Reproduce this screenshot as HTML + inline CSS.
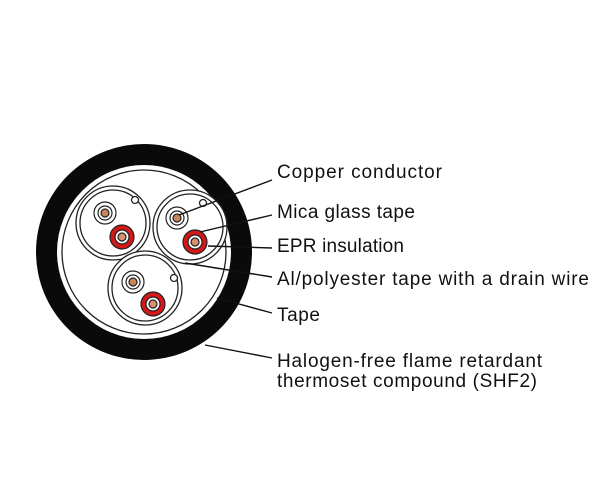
<!DOCTYPE html>
<html><head><meta charset="utf-8"><style>
html,body{margin:0;padding:0;background:#fff;width:600px;height:500px;overflow:hidden}
text{font-family:"Liberation Sans","DejaVu Sans",sans-serif;font-size:19px;fill:#111}
</style></head><body>
<svg width="600" height="500" viewBox="0 0 600 500" xmlns="http://www.w3.org/2000/svg">
<circle cx="144" cy="252" r="108" fill="#0a0a0a"/>
<circle cx="144" cy="252" r="87" fill="#fff"/>
<circle cx="144" cy="252" r="82" fill="none" stroke="#222" stroke-width="1.3"/>
<g fill="none" stroke="#222" stroke-width="1.3">
<circle cx="113" cy="223" r="37" fill="#fff"/><circle cx="113" cy="223" r="33"/>
<circle cx="190" cy="227" r="37" fill="#fff"/><circle cx="190" cy="227" r="33"/>
<circle cx="145" cy="288" r="37" fill="#fff"/><circle cx="145" cy="288" r="33"/>
</g>
<g stroke="#222" stroke-width="1.3" fill="#fff">
<circle cx="135" cy="200" r="3.5"/><circle cx="203" cy="203" r="3.5"/><circle cx="174" cy="278" r="3.5"/>
</g>
<g stroke="#222" stroke-width="1.2">
<circle cx="105" cy="213" r="11" fill="#fff"/><circle cx="105" cy="213" r="7" fill="#fff"/><circle cx="105" cy="213" r="4" fill="#c8845a"/>
<circle cx="177" cy="218" r="11" fill="#fff"/><circle cx="177" cy="218" r="7" fill="#fff"/><circle cx="177" cy="218" r="4" fill="#c8845a"/>
<circle cx="133" cy="282" r="11" fill="#fff"/><circle cx="133" cy="282" r="7" fill="#fff"/><circle cx="133" cy="282" r="4" fill="#c8845a"/>
<circle cx="122" cy="237" r="12" fill="#d41818"/><circle cx="122" cy="237" r="7" fill="#fff"/><circle cx="122" cy="237" r="4" fill="#d89070"/>
<circle cx="195" cy="242" r="12" fill="#d41818"/><circle cx="195" cy="242" r="7" fill="#fff"/><circle cx="195" cy="242" r="4" fill="#d89070"/>
<circle cx="153" cy="304" r="12" fill="#d41818"/><circle cx="153" cy="304" r="7" fill="#fff"/><circle cx="153" cy="304" r="4" fill="#d89070"/>
</g>
<g stroke="#111" stroke-width="1.4">
<line x1="179" y1="215" x2="272" y2="180"/>
<line x1="200" y1="232" x2="272" y2="215"/>
<line x1="208" y1="246" x2="272" y2="248"/>
<line x1="185" y1="263" x2="272" y2="277"/>
<line x1="217" y1="298" x2="272" y2="313"/>
<line x1="205" y1="345" x2="272" y2="358"/>
</g>
<text x="277" y="178" textLength="165">Copper conductor</text>
<text x="277" y="218" textLength="138">Mica glass tape</text>
<text x="277" y="252" textLength="127">EPR insulation</text>
<text x="277" y="285" textLength="312">Al/polyester tape with a drain wire</text>
<text x="277" y="321" textLength="43">Tape</text>
<text x="277" y="367" textLength="265">Halogen-free flame retardant</text>
<text x="277" y="387" textLength="260">thermoset compound (SHF2)</text>
</svg>
</body></html>
